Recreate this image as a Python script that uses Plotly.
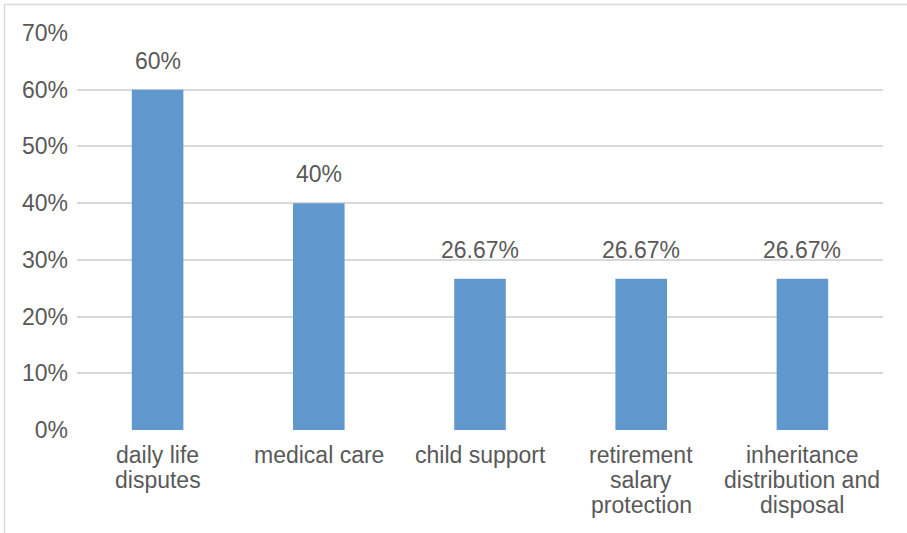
import plotly.graph_objects as go

categories = ["daily life<br>disputes", "medical care", "child support",
              "retirement<br>salary<br>protection", "inheritance<br>distribution and<br>disposal"]
values = [0.60, 0.40, 0.2667, 0.2667, 0.2667]
value_labels = ["60%", "40%", "26.67%", "26.67%", "26.67%"]
y_ticks = [0, 0.1, 0.2, 0.3, 0.4, 0.5, 0.6, 0.7]
y_tick_labels = ["0%", "10%", "20%", "30%", "40%", "50%", "60%", "70%"]

W, H = 907, 533
L, R, T, B = 77, 24, 33, 103
pw, ph = W - L - R, H - T - B

font_family = "Liberation Sans, Arial, sans-serif"
grey = "#595959"
FS = 23

fig = go.Figure(go.Bar(
    x=categories, y=values, marker_color="#6098CD", marker_line_width=0,
    hoverinfo="skip",
))

# value labels above the bars
for c, v, t in zip(categories, values, value_labels):
    fig.add_annotation(x=c, y=v, text=t, showarrow=False, yanchor="middle",
                       yshift=29, font=dict(size=FS, color=grey, family=font_family))

# category labels (one annotation per line for tighter line spacing)
for c in categories:
    for i, line in enumerate(c.split("<br>")):
        fig.add_annotation(x=c, xref="x", y=0, yref="paper", text=line,
                           showarrow=False, yanchor="middle",
                           yshift=-(25 + 25 * i),
                           font=dict(size=FS, color=grey, family=font_family))

# outer chart border (left and top visible)
x0 = (4.5 - L) / pw
x1 = (W + 5 - L) / pw
y0 = 1 + (T - 4.5) / ph
yb = -(H + 5 - (T + ph)) / ph
fig.add_shape(type="path", xref="paper", yref="paper",
              path=f"M {x0} {yb} L {x0} {y0} L {x1} {y0}",
              line=dict(color="#d9d9d9", width=1.5))

fig.update_layout(
    width=W, height=H,
    margin=dict(l=L, r=R, t=T, b=B),
    plot_bgcolor="white", paper_bgcolor="white",
    bargap=0.68,
    showlegend=False,
    font=dict(family=font_family, size=FS, color=grey),
    xaxis=dict(showgrid=False, ticks="", showline=False, showticklabels=False),
    yaxis=dict(range=[0, 0.7], tickvals=y_ticks, ticktext=y_tick_labels,
               showgrid=True, gridcolor="#d9d9d9", gridwidth=1.5,
               zeroline=False, showline=False, ticks="",
               ticklabelstandoff=8,
               tickfont=dict(size=FS, color=grey)),
)

fig.write_html("out.html")
